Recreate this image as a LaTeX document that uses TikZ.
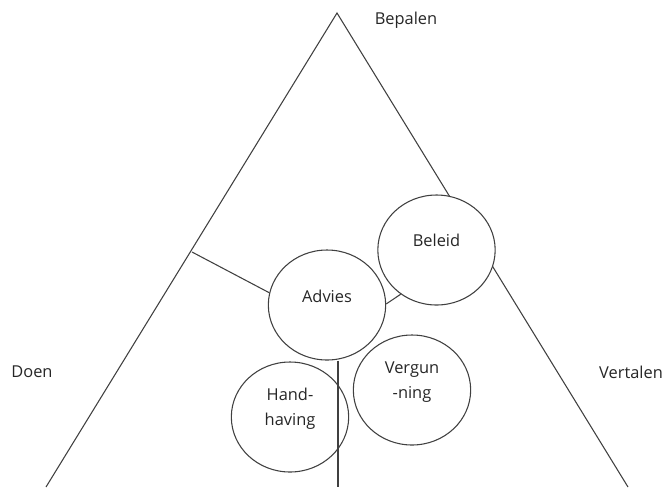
\documentclass[tikz,border=0pt]{standalone}
\usepackage{fontspec}
\setmainfont{Open Sans}
\usetikzlibrary{positioning, shapes.geometric}
\tikzset{
  lijn/.style={draw=black!75, line width=0.8pt},
  rondje/.style={ellipse, draw=black!75, line width=0.8pt, fill=white,
    minimum width=88pt, minimum height=82.5pt, inner sep=0pt, align=center},
  hoek/.style={text=black!85},
}

\begin{document}
\begin{tikzpicture}[x=0.75pt, y=-0.75pt, font=\fontsize{12.3}{19}\selectfont, text=black!85]
  \useasboundingbox (0,0) rectangle (667,487);
  % driehoek
  \coordinate (top) at (337,13);
  \coordinate (linksonder) at (46,487);
  \coordinate (rechtsonder) at (628,487);
  \coordinate (zijpunt) at (192,252);
  \coordinate (voet) at (338,487);
  \draw[lijn] (linksonder) -- (top) -- (rechtsonder);

  % hoeken
  \node[hoek] (bepalen)  at (406,20)  {Bepalen};
  \node[hoek] (doen)     at (32,372)  {Doen};
  \node[hoek] (vertalen) at (631,372) {Vertalen};

  % cirkels
  \node[rondje, text depth=15pt]   (beleid)     at (436.5,250) {Beleid};
  \node[rondje, text depth=13.5pt] (advies)     at (327,305)   {Advies};
  \node[rondje, text depth=15pt]   (vergunning) at (412,390)   {Vergun\\-ning};
  \node[rondje, text depth=15pt]   (handhaving) at (290,417)   {Hand-\\having};

  % verbindingen
  \draw[lijn] (zijpunt) -- (advies.168);
  \draw[lijn] (advies.1) -- (beleid.231);
  \draw[lijn] (voet |- advies.south) -- (voet);
\end{tikzpicture}
\end{document}
